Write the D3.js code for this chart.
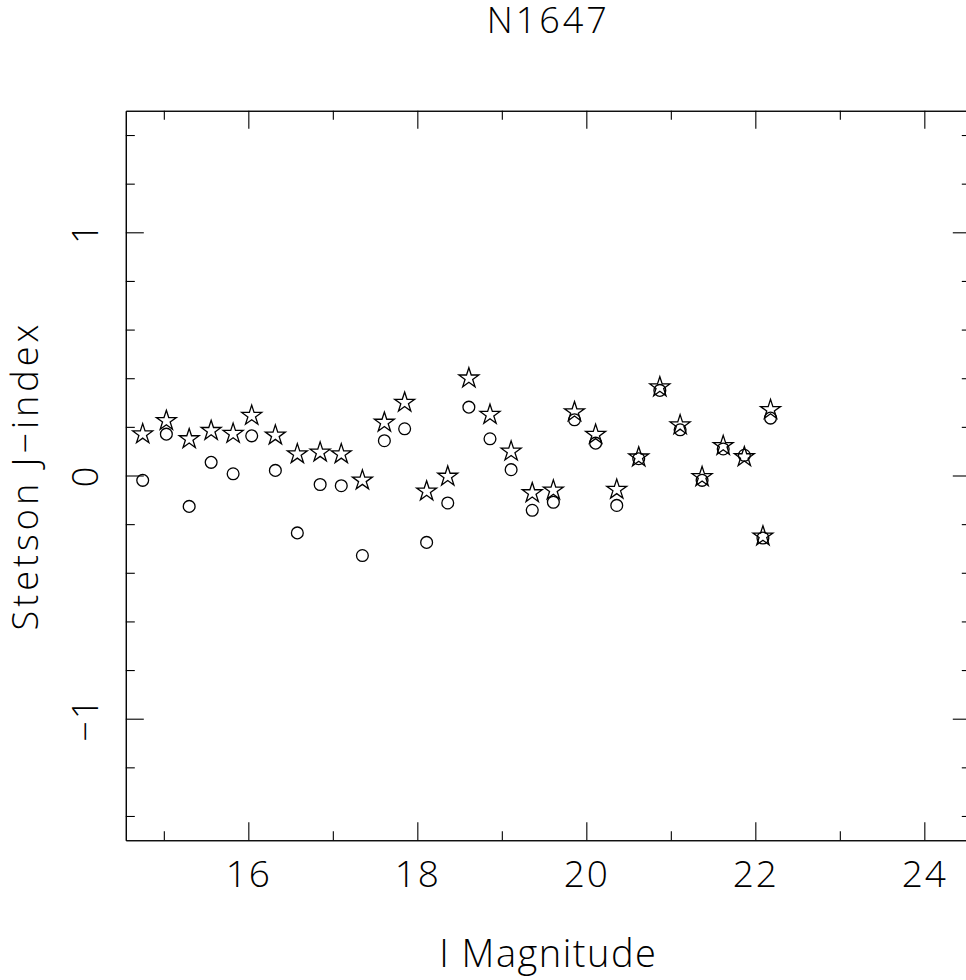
<!DOCTYPE html>
<html>
<head>
<meta charset="utf-8">
<script src="https://cdn.jsdelivr.net/npm/d3@7"></script>
<style>
  html, body { margin: 0; padding: 0; background: #fff; }
  svg { display: block; }
  text { font-family: "Open Sans", "DejaVu Sans", sans-serif; font-weight: 300; fill: #000; }
</style>
</head>
<body>
<div id="chart"></div>
<script>
// ---- data ----
const title = "N1647";
const xLabel = "I Magnitude";
const yLabel = "Stetson J\u2212index";

const magnitude = [14.75, 15.03, 15.30, 15.56, 15.82, 16.04, 16.32, 16.58, 16.85, 17.10,
                   17.35, 17.61, 17.85, 18.11, 18.36, 18.61, 18.86, 19.11, 19.36, 19.61,
                   19.86, 20.11, 20.36, 20.62, 20.87, 21.11, 21.37, 21.62, 21.87, 22.09, 22.18];
const starJ   = [0.170, 0.225, 0.150, 0.184, 0.172, 0.246, 0.165, 0.088, 0.095, 0.088,
                 -0.020, 0.218, 0.300, -0.065, -0.004, 0.400, 0.250, 0.099, -0.072, -0.061,
                 0.261, 0.168, -0.058, 0.075, 0.363, 0.207, -0.006, 0.122, 0.076, -0.250, 0.270];
const circleJ = [-0.020, 0.170, -0.127, 0.054, 0.007, 0.163, 0.021, -0.236, -0.037, -0.042,
                 -0.329, 0.143, 0.192, -0.275, -0.113, 0.281, 0.151, 0.024, -0.143, -0.110,
                 0.229, 0.133, -0.123, 0.069, 0.350, 0.188, -0.020, 0.109, 0.083, -0.257, 0.236];

const xMajorTicks = [16, 18, 20, 22, 24];
const xMinorTicks = [15, 17, 19, 21, 23];
const yMajorTicks = [-1, 0, 1];
const yMinorTicks = [-1.4, -1.2, -0.8, -0.6, -0.4, -0.2, 0.2, 0.4, 0.6, 0.8, 1.2, 1.4];

const xDomain = [14.55, 24.55];
const yDomain = [-1.5, 1.5];

// ---- layout ----
const W = 966, H = 980;
const mLeft = 125.8, mRight = 970.8, mTop = 110.7, mBottom = 840.3;
const majorLen = 18, minorLen = 9;

const svg = d3.select("#chart").append("svg")
  .attr("width", W).attr("height", H);

const x = d3.scaleLinear().domain(xDomain).range([mLeft, mRight]);
const y = d3.scaleLinear().domain(yDomain).range([mBottom, mTop]);

function styleAxis(g) {
  g.select(".domain").attr("stroke", "#000").attr("stroke-width", 1.1);
  g.selectAll(".tick line").attr("stroke", "#000").attr("stroke-width", 1.1);
}

// bottom axis (major with labels)
const gb = svg.append("g").attr("transform", `translate(0,${mBottom})`)
  .call(d3.axisBottom(x).tickValues(xMajorTicks).tickSizeInner(-majorLen).tickSizeOuter(0)
    .tickFormat(d3.format("d")));
gb.call(styleAxis);
gb.attr("font-family", null).attr("font-size", null);
gb.selectAll(".tick text")
  .attr("y", 46.7).attr("dy", null)
  .attr("font-size", 37).attr("letter-spacing", 2);
svg.append("g").attr("transform", `translate(0,${mBottom})`)
  .call(d3.axisBottom(x).tickValues(xMinorTicks).tickSizeInner(-minorLen).tickSizeOuter(0).tickFormat(""))
  .call(styleAxis);

// top axis
svg.append("g").attr("transform", `translate(0,${mTop})`)
  .call(d3.axisTop(x).tickValues(xMajorTicks).tickSizeInner(-majorLen).tickSizeOuter(0).tickFormat(""))
  .call(styleAxis);
svg.append("g").attr("transform", `translate(0,${mTop})`)
  .call(d3.axisTop(x).tickValues(xMinorTicks).tickSizeInner(-minorLen).tickSizeOuter(0).tickFormat(""))
  .call(styleAxis);

// left axis
const gl = svg.append("g").attr("transform", `translate(${mLeft},0)`)
  .call(d3.axisLeft(y).tickValues(yMajorTicks).tickSizeInner(-majorLen).tickSizeOuter(0)
    .tickFormat(d3.format("d")));
gl.call(styleAxis);
gl.attr("font-family", null).attr("font-size", null);
gl.selectAll(".tick text")
  .attr("x", null).attr("dy", null)
  .attr("text-anchor", "middle")
  .attr("transform", "translate(-28,0) rotate(-90)")
  .attr("font-size", 36).attr("letter-spacing", 2);
svg.append("g").attr("transform", `translate(${mLeft},0)`)
  .call(d3.axisLeft(y).tickValues(yMinorTicks).tickSizeInner(-minorLen).tickSizeOuter(0).tickFormat(""))
  .call(styleAxis);

// right axis
svg.append("g").attr("transform", `translate(${mRight},0)`)
  .call(d3.axisRight(y).tickValues(yMajorTicks).tickSizeInner(-majorLen).tickSizeOuter(0).tickFormat(""))
  .call(styleAxis);
svg.append("g").attr("transform", `translate(${mRight},0)`)
  .call(d3.axisRight(y).tickValues(yMinorTicks).tickSizeInner(-minorLen).tickSizeOuter(0).tickFormat(""))
  .call(styleAxis);

// ---- marks ----
const circleSym = d3.symbol().type(d3.symbolCircle).size(Math.PI * 5.9 * 5.9);
const starSym = d3.symbol().type(d3.symbolStar).size(10.5 * 10.5 / 0.8908130915292852);

svg.append("g").selectAll("path")
  .data(magnitude.map((m, i) => ({m, j: circleJ[i]})))
  .join("path")
  .attr("d", circleSym)
  .attr("transform", d => `translate(${x(d.m)},${y(d.j)})`)
  .attr("fill", "none").attr("stroke", "#000").attr("stroke-width", 1.3);

svg.append("g").selectAll("path")
  .data(magnitude.map((m, i) => ({m, j: starJ[i]})))
  .join("path")
  .attr("d", starSym)
  .attr("transform", d => `translate(${x(d.m)},${y(d.j)})`)
  .attr("fill", "none").attr("stroke", "#000").attr("stroke-width", 1.3);

// ---- titles ----
const cx = (mLeft + mRight) / 2;
svg.append("text").attr("x", cx).attr("y", 33).attr("text-anchor", "middle")
  .attr("font-size", 36).attr("letter-spacing", 3).text(title);
svg.append("text").attr("x", cx).attr("y", 967).attr("text-anchor", "middle")
  .attr("font-size", 38).attr("letter-spacing", 1.5).text(xLabel);
svg.append("text")
  .attr("transform", `translate(38,${(mTop + mBottom) / 2}) rotate(-90)`)
  .attr("text-anchor", "middle")
  .attr("font-size", 36).attr("letter-spacing", 4).text(yLabel);
</script>
</body>
</html>
